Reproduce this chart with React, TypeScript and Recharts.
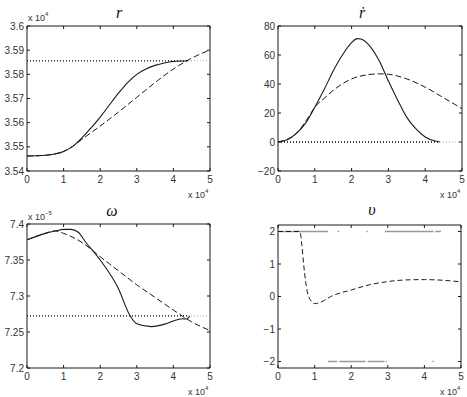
import { LineChart, Line, XAxis, YAxis, ReferenceArea } from 'recharts'

// time axis, in units of 10^4 s
const xTicks = [0, 1, 2, 3, 4, 5]
const targetEnd = 4.4

// r (x 10^4)
const rTime = [0, 0.5, 0.75, 1, 1.25, 1.5, 1.75, 2, 2.25, 2.5, 2.75, 3, 3.25, 3.5, 3.75, 4, 4.4]
const rActual = [3.5462, 3.5465, 3.547, 3.5481, 3.5502, 3.5537, 3.5578, 3.5623, 3.5673, 3.5722, 3.5766, 3.58, 3.5822, 3.5837, 3.5847, 3.5853, 3.5856]
const rRefTime = [0, 0.5, 0.75, 1, 1.25, 1.5, 2, 2.5, 3, 3.5, 4, 4.5, 5]
const rReference = [3.5462, 3.5465, 3.547, 3.5481, 3.5502, 3.5531, 3.5586, 3.5644, 3.5705, 3.5766, 3.5822, 3.5867, 3.5901]
const rTarget = 3.5856
const rTicks = [3.54, 3.55, 3.56, 3.57, 3.58, 3.59, 3.6]

// r dot
const rdTime = [0, 0.25, 0.5, 0.75, 1, 1.25, 1.5, 1.75, 2, 2.15, 2.25, 2.5, 2.75, 3, 3.25, 3.5, 3.75, 4, 4.25, 4.4]
const rdActual = [0, 1.5, 6, 13, 24, 36, 49, 60, 68.5, 71.3, 71, 66, 56, 42, 29, 17, 9, 3.5, 0.8, 0]
const rdRefTime = [0, 0.5, 0.85, 1, 1.25, 1.5, 2, 2.5, 2.75, 3, 3.5, 4, 4.5, 5]
const rdReference = [0, 6, 18, 24, 30, 35.6, 43.5, 46.6, 47, 46.7, 43.5, 37.8, 30.5, 23]
const rdTarget = 0
const rdTicks = [-20, 0, 20, 40, 60, 80]

// omega (x 10^-5)
const wTime = [0, 0.5, 0.8, 1, 1.2, 1.4, 1.6, 2, 2.5, 2.8, 3, 3.4, 3.8, 4.1, 4.25, 4.35, 4.45]
const wActual = [7.378, 7.387, 7.3905, 7.3925, 7.3925, 7.3885, 7.375, 7.35, 7.31, 7.274, 7.2615, 7.2575, 7.2615, 7.267, 7.2685, 7.268, 7.272]
const wRefTime = [0, 0.5, 0.75, 1, 1.5, 2, 2.5, 3, 3.5, 4, 4.5, 5]
const wReference = [7.378, 7.387, 7.3905, 7.387, 7.3744, 7.3545, 7.335, 7.3155, 7.298, 7.2805, 7.264, 7.252]
const wTarget = 7.2723
const wTicks = [7.2, 7.25, 7.3, 7.35, 7.4]

// v: continuous command and saturated switching segments
const vTime = [0, 0.6, 0.65, 0.7, 0.75, 0.8, 0.9, 1, 1.1, 1.5, 2, 2.5, 3, 3.5, 4, 4.5, 5]
const vCommand = [2, 2, 1.6, 1.0, 0.5, 0.15, -0.13, -0.22, -0.2, 0.03, 0.2, 0.36, 0.46, 0.51, 0.52, 0.5, 0.45]
const vHighRuns = [[0, 1.37], [1.63, 1.67], [2.41, 2.45], [2.92, 4.25], [4.3, 4.45]]
const vLowRuns = [[1.37, 1.62], [1.68, 2.39], [2.45, 2.91], [2.94, 2.97], [4.22, 4.26]]
const vTicks = [-2, -1, 0, 1, 2]

const TICK = 3
const FONT = '"Liberation Sans", Arial, sans-serif'
const INK = '#1a1a1a'

const pts = (xs: number[], ys: number[]) => xs.map((x, i) => ({ x, y: ys[i] }))

const targetLine = (v: number) => [
  { x: 0, y: v, y2: null },
  { x: targetEnd, y: v, y2: v },
  { x: 5, y: null, y2: v },
]

const runs = (segs: number[][], level: number) =>
  segs.flatMap(([a, b]) => [
    { x: a, y: level },
    { x: b, y: level },
    { x: b + 0.001, y: null },
  ])

const fmt = (v: number) => {
  const s = String(Number(v.toFixed(3)))
  return s.startsWith('-') ? '\u2212' + s.slice(1) : s
}

type Box = { left: number; top: number; width: number; height: number; yw: number; mt: number; mr: number; xh: number }

function Panel({ box, domain, ticks, children }: { box: Box; domain: [number, number]; ticks: number[]; children: any }) {
  const plotW = box.width - box.yw - box.mr
  const plotH = box.height - box.mt - box.xh

  const xTick = (p: any) => (
    <g>
      <line x1={p.x} x2={p.x} y1={p.y} y2={p.y - TICK} stroke={INK} />
      <line x1={p.x} x2={p.x} y1={p.y - plotH} y2={p.y - plotH + TICK} stroke={INK} />
      <text x={p.x} y={p.y + 12} textAnchor="middle" fontSize={10} fontFamily={FONT} fill="#333">
        {fmt(p.payload.value)}
      </text>
    </g>
  )

  const yTick = (p: any) => (
    <g>
      <line x1={p.x} x2={p.x + TICK} y1={p.y} y2={p.y} stroke={INK} />
      <line x1={p.x + plotW} x2={p.x + plotW - TICK} y1={p.y} y2={p.y} stroke={INK} />
      <text x={p.x - 3} y={p.y + 3.5} textAnchor="end" fontSize={10} fontFamily={FONT} fill="#333">
        {fmt(p.payload.value)}
      </text>
    </g>
  )

  return (
    <div style={{ position: 'absolute', left: box.left, top: box.top }}>
      <LineChart width={box.width} height={box.height} margin={{ top: box.mt, right: box.mr, bottom: 0, left: 0 }}>
        <XAxis
          type="number"
          dataKey="x"
          domain={[0, 5]}
          ticks={xTicks}
          height={box.xh}
          axisLine={false}
          tickLine={false}
          tickSize={0}
          tickMargin={0}
          tick={xTick}
          allowDataOverflow
        />
        <YAxis
          type="number"
          domain={domain}
          ticks={ticks}
          width={box.yw}
          axisLine={false}
          tickLine={false}
          tickSize={0}
          tickMargin={0}
          tick={yTick}
          allowDataOverflow
        />
        {children}
        <ReferenceArea x1={0} x2={5} y1={domain[0]} y2={domain[1]} fill="none" stroke={INK} strokeWidth={1} fillOpacity={0} />
      </LineChart>
    </div>
  )
}

const solid = (data: any[], key: string) => (
  <Line key={key} data={data} dataKey="y" type="monotone" stroke={INK} strokeWidth={1.1} dot={false} isAnimationActive={false} />
)
const dashed = (data: any[], key: string) => (
  <Line key={key} data={data} dataKey="y" type="monotone" stroke={INK} strokeWidth={1} strokeDasharray="6 3" dot={false} isAnimationActive={false} />
)
const dotted = (v: number, key: string) => [
  <Line key={key + 'a'} data={targetLine(v)} dataKey="y" type="linear" stroke="#000" strokeWidth={1.3} strokeDasharray="1 2" dot={false} isAnimationActive={false} />,
  <Line key={key + 'b'} data={targetLine(v)} dataKey="y2" type="linear" stroke="#aaa" strokeWidth={1.1} strokeDasharray="1 2" dot={false} isAnimationActive={false} />,
]

const TL: Box = { left: 0, top: 0, width: 233, height: 198, yw: 27, mt: 26, mr: 23, xh: 27 }
const TR: Box = { left: 233, top: 0, width: 234, height: 198, yw: 45, mt: 26, mr: 5, xh: 27 }
const BL: Box = { left: 0, top: 198, width: 233, height: 199, yw: 27, mt: 26, mr: 23, xh: 29 }
const BR: Box = { left: 233, top: 198, width: 234, height: 199, yw: 45, mt: 27, mr: 6, xh: 29 }

function Exp({ x, y, p }: { x: number; y: number; p: string }) {
  return (
    <text x={x} y={y} fontSize={9} fontFamily={FONT} fill="#333">
      x 10
      <tspan fontSize={6} dy={-5}>{p}</tspan>
    </text>
  )
}

function Title({ x, y, t }: { x: number; y: number; t: string }) {
  return (
    <text x={x} y={y} textAnchor="middle" fontSize={16} fontStyle="italic" fontFamily='"Liberation Serif", "DejaVu Serif", serif' fill="#111">
      {t}
    </text>
  )
}

export default function App() {
  return (
    <div style={{ position: 'absolute', left: 0, top: 0, width: 467, height: 397, background: '#fff' }}>
      <Panel box={TL} domain={[3.54, 3.6]} ticks={rTicks}>
        {[...dotted(rTarget, 'rt'), dashed(pts(rRefTime, rReference), 'rr'), solid(pts(rTime, rActual), 'ra')]}
      </Panel>
      <Panel box={TR} domain={[-20, 80]} ticks={rdTicks}>
        {[...dotted(rdTarget, 'dt'), dashed(pts(rdRefTime, rdReference), 'dr'), solid(pts(rdTime, rdActual), 'da')]}
      </Panel>
      <Panel box={BL} domain={[7.2, 7.4]} ticks={wTicks}>
        {[...dotted(wTarget, 'wt'), dashed(pts(wRefTime, wReference), 'wr'), solid(pts(wTime, wActual), 'wa')]}
      </Panel>
      <Panel box={BR} domain={[-2.2, 2.2]} ticks={vTicks}>
        {[
          <Line key="vh" data={runs(vHighRuns, 2)} dataKey="y" type="linear" stroke="#999" strokeWidth={1.6} dot={false} isAnimationActive={false} />,
          <Line key="vl" data={runs(vLowRuns, -2)} dataKey="y" type="linear" stroke="#999" strokeWidth={1.6} dot={false} isAnimationActive={false} />,
          <Line key="vc" data={pts(vTime, vCommand)} dataKey="y" type="monotone" stroke={INK} strokeWidth={1} strokeDasharray="5 3" dot={false} isAnimationActive={false} />,
        ]}
      </Panel>
      <svg width={467} height={397} style={{ position: 'absolute', left: 0, top: 0, pointerEvents: 'none' }}>
        <Title x={119} y={18} t="r" />
        <Title x={362} y={18} t={'\u1E59'} />
        <Title x={112} y={216} t={'\u03C9'} />
        <Title x={372} y={215} t={'\u03C5'} />
        <Exp x={28} y={21} p="4" />
        <Exp x={28} y={220} p={'\u22125'} />
        <Exp x={188} y={198} p="4" />
        <Exp x={440} y={198} p="4" />
        <Exp x={188} y={395} p="4" />
        <Exp x={440} y={395} p="4" />
      </svg>
    </div>
  )
}
